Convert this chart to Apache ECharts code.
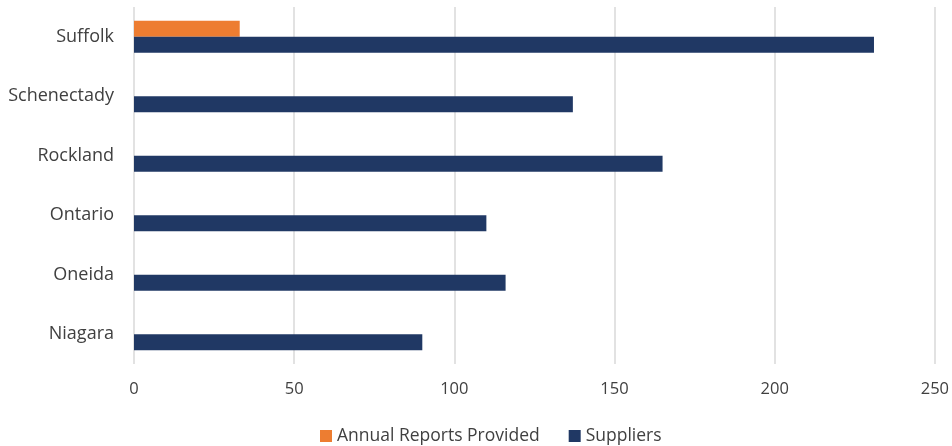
<!DOCTYPE html>
<html>
<head>
<meta charset="utf-8">
<script src="https://cdn.jsdelivr.net/npm/echarts@6/dist/echarts.min.js"></script>
<style>
  html, body { margin: 0; padding: 0; background: #fff; }
  #container { width: 952px; height: 446px; }
</style>
</head>
<body>
<div id="container"></div>
<script>
var counties = ['Niagara', 'Oneida', 'Ontario', 'Rockland', 'Schenectady', 'Suffolk'];
var annualReports = [0, 0, 0, 0, 0, 33];
var suppliers = [90, 116, 110, 165, 137, 231];
var xTicks = [0, 50, 100, 150, 200, 250];

var myChart = echarts.init(document.getElementById('container'));
var option = {
    animation: false,
    textStyle: { fontFamily: 'Open Sans', color: '#404040' },
    grid: { left: 134, right: 16, top: 7, bottom: 82 },
    legend: {
        data: ['Annual Reports Provided', 'Suppliers'],
        left: 320,
        top: 427,
        padding: 0,
        itemWidth: 12,
        itemHeight: 12,
        itemGap: 29,
        icon: 'rect',
        textStyle: { fontSize: 17.5, color: '#404040', fontFamily: 'Open Sans' }
    },
    xAxis: {
        type: 'value',
        min: xTicks[0],
        max: xTicks[xTicks.length - 1],
        interval: 50,
        axisLine: { show: false },
        axisTick: { show: false },
        axisLabel: { fontSize: 16.5, color: '#404040', margin: 17 },
        splitLine: { lineStyle: { color: '#d9d9d9', width: 1.5 } }
    },
    yAxis: {
        type: 'category',
        data: counties,
        axisLine: { show: false },
        axisTick: { show: false },
        axisLabel: { fontSize: 18, color: '#404040', margin: 20 }
    },
    series: [
        {
            name: 'Annual Reports Provided',
            type: 'bar',
            data: annualReports,
            barWidth: 16,
            barGap: '0%',
            itemStyle: { color: '#ED7D31' }
        },
        {
            name: 'Suppliers',
            type: 'bar',
            data: suppliers,
            barWidth: 16,
            barGap: '0%',
            itemStyle: { color: '#203864' }
        }
    ]
};
myChart.setOption(option);
</script>
</body>
</html>
